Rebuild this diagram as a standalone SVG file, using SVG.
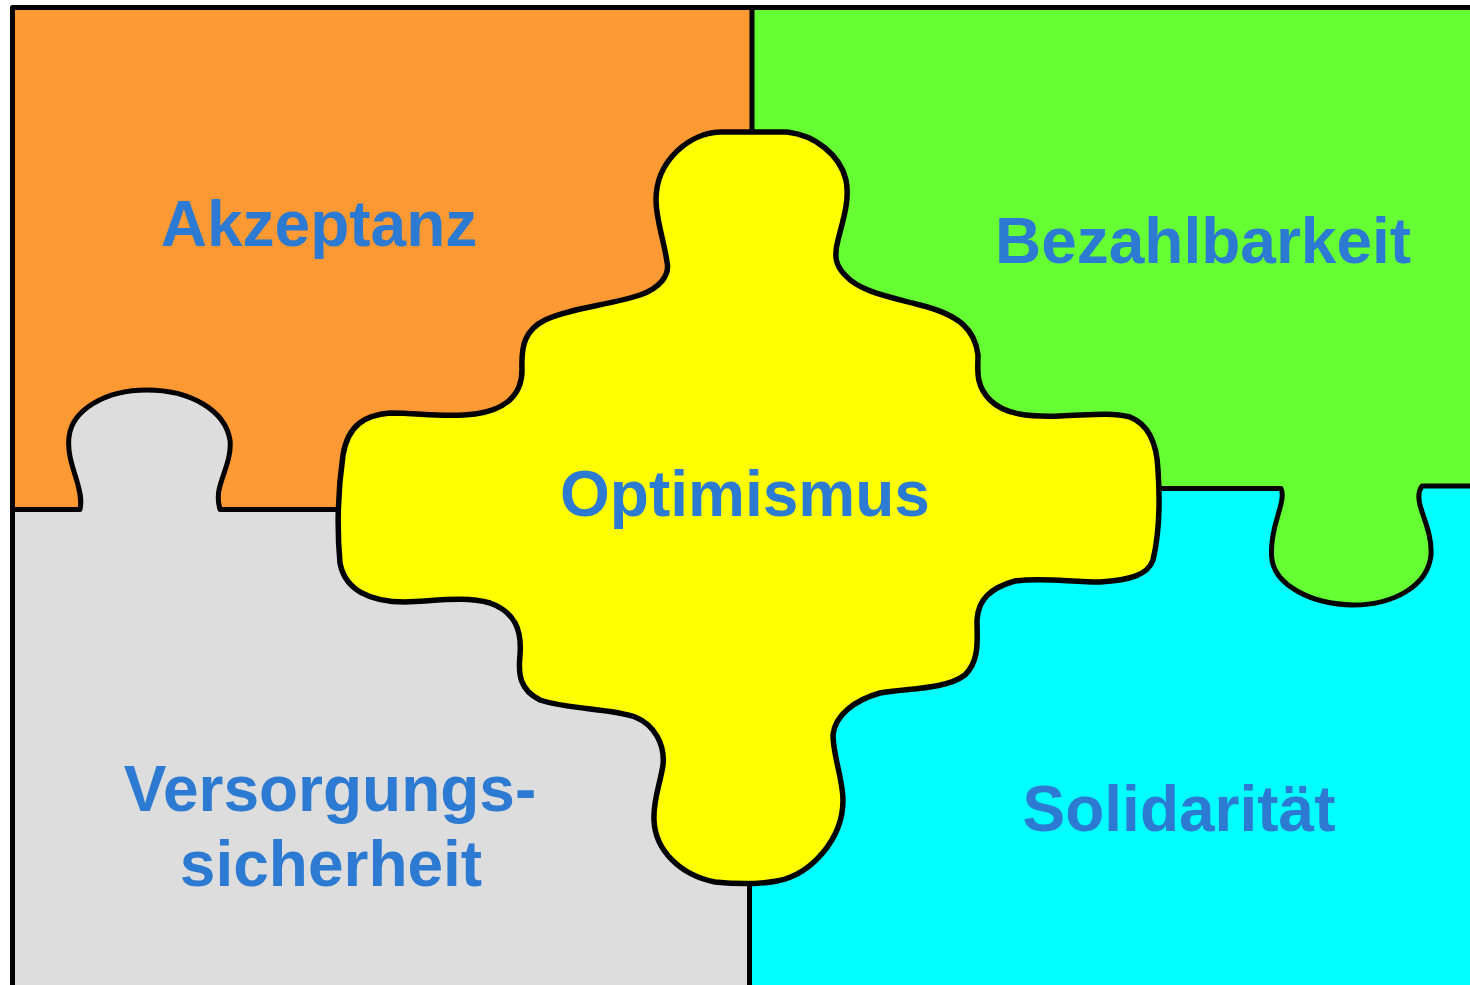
<svg xmlns="http://www.w3.org/2000/svg" width="1470" height="985" viewBox="0 0 1470 985">
  <style>
    .line { fill: none; stroke: #000; stroke-width: 5; stroke-linejoin: round; }
    .edge { stroke: #000; stroke-width: 5.5; stroke-linejoin: round; }
    .lbl { font-family: "Liberation Sans", Arial, sans-serif; font-weight: bold; font-size: 64px; fill: #2C7AD2; text-anchor: middle; }
  </style>
  <rect x="0" y="0" width="1470" height="985" fill="#ffffff"/>
  <g id="akzeptanz">
    <rect x="12" y="8" width="740" height="501" fill="#FF9933"/>
    <text class="lbl" x="319" y="246">Akzeptanz</text>
  </g>
  <g id="bezahlbarkeit">
    <rect x="752" y="8" width="718" height="480" fill="#66FF33"/>
    <path d="M 1160 488 L 1281 488 C 1284 495 1281 505 1278 515 C 1274 528 1270 545 1272 560 C 1276 585 1310 604 1353 605 C 1395 605 1428 585 1431 555 C 1432 535 1424 520 1420 505 C 1418 497 1419 490 1422 486 L 1470 486 L 1470 480 L 1160 480 Z" fill="#66FF33"/>
    <text class="lbl" x="1203" y="263">Bezahlbarkeit</text>
  </g>
  <g id="versorgungssicherheit">
    <rect x="12" y="509" width="737" height="476" fill="#DDDDDD"/>
    <path d="M 80 509 C 82 500 80 493 78 485 C 74 470 67 455 69 437 C 72 410 105 390 147 390 C 190 390 225 410 230 440 C 232 458 222 475 219 490 C 217 500 219 505 220 509 Z" fill="#DDDDDD"/>
    <text class="lbl" x="330" y="811">Versorgungs-</text>
    <text class="lbl" x="331" y="886">sicherheit</text>
  </g>
  <g id="solidaritaet">
    <path d="M 749 985 L 749 490 L 1160 488 L 1281 488 C 1284 495 1281 505 1278 515 C 1274 528 1270 545 1272 560 C 1276 585 1310 604 1353 605 C 1395 605 1428 585 1431 555 C 1432 535 1424 520 1420 505 C 1418 497 1419 490 1422 486 L 1470 486 L 1470 985 Z" fill="#00FFFF"/>
    <text class="lbl" x="1179" y="831">Solidarität</text>
  </g>
  <g id="connectors">
    <path class="line" d="M 12.5 985 L 12.5 7.5 L 1470 7.5"/>
    <path class="line" d="M 752 8 L 752 140"/>
    <path class="line" d="M 749.5 870 L 749.5 985"/>
    <path class="line" d="M 12 509.5 L 80 509.5 C 82 500 80 493 78 485 C 74 470 67 455 69 437 C 72 410 105 390 147 390 C 190 390 225 410 230 440 C 232 458 222 475 219 490 C 217 500 219 505 220 509.5 L 345 509.5"/>
    <path class="line" d="M 1150 488.5 L 1281 488.5 C 1284 495 1281 505 1278 515 C 1274 528 1270 545 1272 560 C 1276 585 1310 604 1353 605 C 1395 605 1428 585 1431 555 C 1432 535 1424 520 1420 505 C 1418 497 1419 490 1422 486 L 1470 486"/>
  </g>
  <g id="optimismus">
    <path class="edge" fill="#FFFF00" d="M 750 132 L 787 132 C 815 135 840 155 846 180 C 850 200 843 220 838 240 C 834 255 835 265 845 275 C 860 292 890 297 920 305 C 960 315 975 330 978 355 C 978 370 975 385 990 400 C 1005 415 1030 417 1060 416 C 1090 415 1110 412 1130 417 C 1150 425 1157 445 1158 470 C 1160 500 1159 535 1153 560 C 1148 575 1130 580 1100 582 C 1070 582 1040 577 1015 581 C 990 588 978 600 977 620 C 977 640 980 660 965 675 C 945 690 905 688 880 693 C 855 700 835 715 833 735 C 833 755 843 780 843 800 C 843 840 810 875 777 881 C 760 884 735 884 715 882 C 680 875 655 850 654 820 C 653 800 660 785 663 765 C 665 745 655 725 635 717 C 610 708 570 710 540 700 C 520 690 518 675 520 655 C 522 630 515 612 490 603 C 465 596 435 601 405 602 C 370 602 345 590 340 563 C 337 530 338 490 343 455 C 348 425 365 415 390 413 C 420 413 445 418 475 414 C 505 410 522 395 522 370 C 521 345 525 330 545 320 C 570 308 610 305 640 295 C 660 288 670 275 667 262 C 664 240 656 220 656 200 C 656 160 690 133 720 132 Z"/>
    <text class="lbl" x="745" y="516">Optimismus</text>
  </g>
</svg>
